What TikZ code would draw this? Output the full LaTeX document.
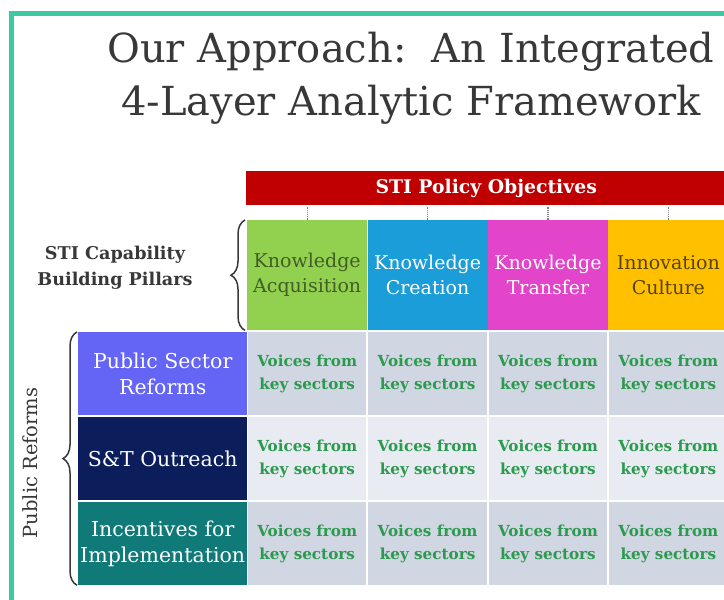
\documentclass[tikz,border=0pt]{standalone}
\usepackage{fontspec}
\setmainfont{DejaVu Serif}
\usepackage{xcolor}
\usetikzlibrary{positioning}
\usetikzlibrary{decorations.pathreplacing}

\definecolor{framegreen}{HTML}{3DC9A1}
\definecolor{objred}{HTML}{C00000}
\definecolor{acqgreen}{HTML}{92D050}
\definecolor{creblue}{HTML}{1A9DD8}
\definecolor{tramag}{HTML}{E245C9}
\definecolor{culorange}{HTML}{FFC000}
\definecolor{rowviolet}{HTML}{6464F5}
\definecolor{rownavy}{HTML}{0B1E5B}
\definecolor{rowteal}{HTML}{0F7A78}
\definecolor{cellgray}{HTML}{D0D6E2}
\definecolor{celllight}{HTML}{E8EBF1}
\definecolor{voicegreen}{HTML}{2C9A4E}
\definecolor{labelgray}{HTML}{383838}

\begin{document}
\begin{tikzpicture}[x=1pt,y=-1pt,
      pillar/.style={
         rectangle,
         inner sep=0pt,
         minimum width=120pt,
         minimum height=110pt,
         align=center,
         font=\fontsize{19}{25}\selectfont},
      rowhead/.style={
         rectangle,
         inner sep=0pt,
         minimum width=169pt,
         minimum height=83pt,
         align=center,
         text=white,
         font=\fontsize{20.5}{26}\selectfont},
      cell/.style={
         rectangle,
         inner sep=0pt,
         minimum width=118.5pt,
         minimum height=83pt,
         align=center,
         text=voicegreen,
         font=\bfseries\fontsize{15.2}{23}\selectfont},
      sidelabel/.style={
         align=center,
         text=labelgray,
         font=\bfseries\fontsize{17.6}{26}\selectfont},
      bracestyle/.style={
         decorate,
         decoration={brace,amplitude=14pt},
         draw=labelgray,
         line width=1.5pt},
      dotline/.style={densely dotted, draw=gray, line width=1.2pt},
      node distance=0pt and 0pt
      ]
      \path[use as bounding box, clip] (0,0) rectangle (724,600);
      \draw[framegreen, line width=5pt] (11.5,13.5) rectangle (760,640);

      \node[align=center, text=labelgray, font=\fontsize{40}{53}\selectfont] (title) at (411,78)
         {Our Approach:\ \ An Integrated\\4-Layer Analytic Framework};

      \node[rectangle, fill=objred, inner sep=0pt, minimum width=480pt, minimum height=34pt,
            anchor=north west, text=white, font=\bfseries\fontsize{18.8}{22}\selectfont] (obj) at (246,171)
         {STI Policy Objectives};

      \node[pillar, fill=acqgreen, text=acqgreen!45!black, anchor=north west] (p1) at (247,220)
         {Knowledge\\Acquisition};
      \node[pillar, fill=creblue, text=white, right=of p1] (p2) {Knowledge\\Creation};
      \node[pillar, fill=tramag, text=white, right=of p2] (p3) {Knowledge\\Transfer};
      \node[pillar, fill=culorange, text=culorange!35!black, right=of p3] (p4) {Innovation\\Culture};

      \foreach \c in {1,...,4}
         \draw[dotline] ([yshift=-2pt]p\c.north |- obj.south) -- (p\c.north);

      \node[rowhead, fill=rowviolet, anchor=north west] (r1) at (78,332) {Public Sector\\Reforms};
      \node[rowhead, fill=rownavy, below=1.5pt of r1] (r2) {S\&T Outreach};
      \node[rowhead, fill=rowteal, below=1.5pt of r2] (r3) {Incentives for\\Implementation};

      \foreach \r/\shade in {r1/cellgray, r2/celllight, r3/cellgray}
         \foreach \c in {1,...,4}
            \node[cell, fill=\shade] (\r c\c) at (p\c.south |- \r) {Voices from\\key sectors};

      % braces with their labels
      \draw[bracestyle] ([xshift=-2pt]p1.south west) -- ([xshift=-2pt]p1.north west);
      \node[sidelabel] (pillars) at (115,268) {STI Capability\\Building Pillars};

      \draw[bracestyle] ([xshift=-1pt]r3.south west) -- ([xshift=-1pt]r1.north west);
      \node[sidelabel, font=\fontsize{19.5}{22}\selectfont, rotate=90] (reforms) at (30,463) {Public Reforms};
\end{tikzpicture}
\end{document}
